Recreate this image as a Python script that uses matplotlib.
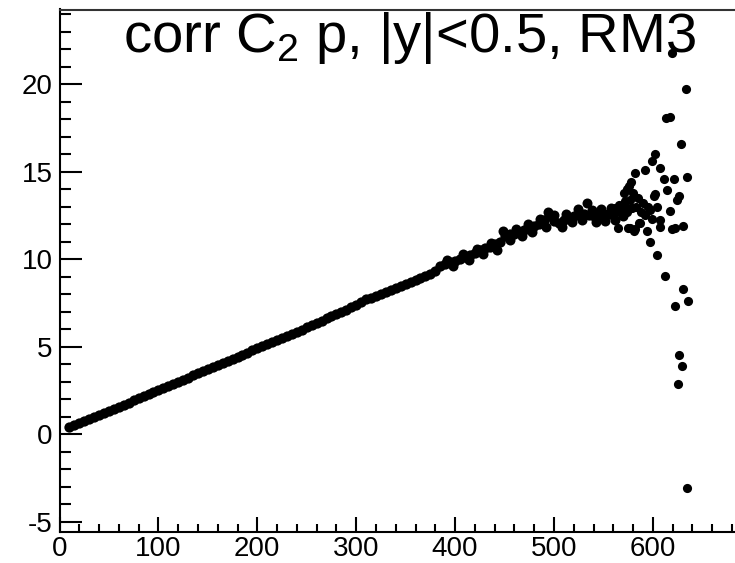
import matplotlib
matplotlib.use("Agg")
import matplotlib.pyplot as plt
from matplotlib.ticker import MultipleLocator

plt.rcParams['font.family'] = ['Liberation Sans', 'DejaVu Sans']
plt.rcParams['mathtext.fontset'] = 'custom'
plt.rcParams['mathtext.rm'] = 'Liberation Sans'
plt.rcParams['axes.unicode_minus'] = False

# main band, every 5 units of multiplicity
band_x = list(range(10, 565, 5))
band_y = [0.43, 0.50, 0.62, 0.74, 0.86, 0.97, 1.10, 1.21, 1.33, 1.45,
          1.57, 1.69, 1.80, 1.93, 2.05, 2.16, 2.29, 2.41, 2.53, 2.64,
          2.76, 2.88, 3.00, 3.12, 3.23, 3.36, 3.48, 3.60, 3.71, 3.83,
          3.95, 4.07, 4.19, 4.31, 4.42, 4.55, 4.66, 4.79, 4.90, 5.02,
          5.13, 5.26, 5.38, 5.49, 5.62, 5.74, 5.86, 5.98, 6.10, 6.23,
          6.36, 6.47, 6.62, 6.74, 6.86, 6.99, 7.12, 7.26, 7.40, 7.56,
          7.72, 7.80, 7.92, 8.03, 8.14, 8.26, 8.38, 8.47, 8.60, 8.72,
          8.84, 8.93, 9.05, 9.14, 9.35, 9.62, 9.70, 9.82, 9.92, 10.02,
          10.12, 10.26, 10.38, 10.50, 10.62, 10.72, 10.85, 11.00, 11.30, 11.45,
          11.42, 11.55, 11.66, 11.78, 11.90, 12.02, 12.25, 12.45, 12.20, 12.05,
          12.25, 12.38, 12.45, 12.55, 12.60, 12.50, 12.45, 12.55, 12.40, 12.60,
          12.50]

# extra points that make the band wider at high multiplicity
spread_x = [392, 398, 408, 414, 422, 428, 436, 442, 448, 456, 462, 468,
            474, 478, 486, 492, 494, 500, 508, 512, 518, 524, 528, 533,
            538, 542, 548, 552, 558, 562, 566, 570, 573]
spread_y = [9.95, 9.60, 10.30, 9.95, 10.60, 10.30, 10.95, 10.55, 11.60, 11.10, 11.70, 11.30,
            12.00, 11.55, 12.30, 11.85, 12.70, 12.55, 11.85, 12.60, 12.10, 12.85, 12.25, 13.20,
            12.80, 12.15, 12.85, 12.20, 12.90, 12.25, 12.75, 12.45, 12.90]

# scattered tail
tail_x = [562, 566, 569, 572, 574, 577, 579, 583, 585, 588, 590, 592, 595, 597,
          578, 580, 571, 565, 573.7, 575.4, 575, 577, 580.4, 582, 582, 585.5,
          587, 592.3, 594, 597.4, 599, 599, 600.7, 602.4, 602.4, 604, 604,
          606.8, 607.5, 607.5, 610.9, 612.6, 613.6, 617.6, 614.3, 617.6, 619,
          619, 621, 622.7, 622.7, 624.5, 626.8, 626.8, 625.4, 628.8, 629.4,
          630.5, 630.5, 633, 634, 635.6, 634.6]
tail_y = [12.9, 13.1, 12.6, 13.3, 12.7, 13.4, 12.9, 13.0, 13.5, 12.7, 13.2, 12.5, 13.0, 12.8,
          14.4, 13.8, 13.8, 11.8, 14.0, 14.2, 11.8, 11.8, 11.6, 11.7, 14.9, 12.06,
          12.06, 15.1, 11.6, 11.0, 15.6, 12.3, 13.6, 13.7, 16.0, 13.0, 10.25,
          15.2, 12.25, 11.86, 14.6, 9.05, 18.06, 18.1, 13.96, 12.75, 11.7,
          21.8, 14.6, 11.8, 7.35, 13.4, 13.6, 4.5, 2.85, 16.6, 3.9,
          8.3, 11.9, 19.7, 14.7, 7.6, -3.1]

fig = plt.figure(figsize=(7.35, 5.63), dpi=100)
ax = fig.add_axes([59.5 / 735, 31.3 / 563, 675.5 / 735, 522.2 / 563])

# dense part drawn a bit fatter so the overlapping dots merge like in the original
ax.plot(band_x, band_y, 'o', color='black', ms=7.4, mew=0)
ax.plot(spread_x, spread_y, 'o', color='black', ms=7.2, mew=0)
ax.plot(tail_x, tail_y, 'o', color='black', ms=6.6, mew=0)

ax.set_xlim(0, 683)
ax.set_ylim(-5.57, 24.27)

ax.xaxis.set_major_locator(MultipleLocator(100))
ax.xaxis.set_minor_locator(MultipleLocator(20))
ax.yaxis.set_major_locator(MultipleLocator(5))
ax.yaxis.set_minor_locator(MultipleLocator(1))

ax.tick_params(axis='y', which='major', direction='in', length=15.8, width=1.5,
               labelsize=20, pad=5)
ax.tick_params(axis='y', which='minor', direction='in', length=7.9, width=1.5)
ax.tick_params(axis='x', which='major', direction='in', length=10.8, width=1.5,
               labelsize=20, pad=3.2)
ax.tick_params(axis='x', which='minor', direction='in', length=5.8, width=1.5)

for s in ['left', 'bottom', 'top']:
    ax.spines[s].set_linewidth(1.5)
ax.spines['top'].set_color('#333333')
ax.spines['right'].set_visible(False)

fig.text(410 / 735, (563 - 52) / 563, r'corr C$_\mathregular{2}$ p, |y|<0.5, RM3',
         ha='center', va='baseline', fontsize=40.5)

fig.savefig('out.png', dpi=100)
